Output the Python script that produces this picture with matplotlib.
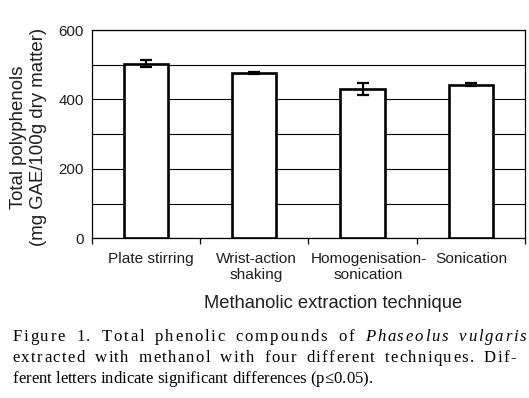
import matplotlib
matplotlib.use("Agg")
import matplotlib.pyplot as plt
import matplotlib.transforms as mtransforms
import numpy as np

# ---- data ----
categories = ["Plate stirring", "Wrist-action\nshaking", "Homogenisation-\nsonication", "Sonication"]
values = [503, 477, 429, 443]
errors = [10, 3, 17, 4]
ytick_values = [0, 100, 200, 300, 400, 500, 600]
ytick_labels = ["0", "", "200", "", "400", "", "600"]
ylabel = "Total polyphenols\n(mg GAE/100g dry matter)"
xlabel = "Methanolic extraction technique"
caption_lines = [
    [("Figure", "normal"), ("1.", "normal"), ("Total", "normal"), ("phenolic", "normal"),
     ("compounds", "normal"), ("of", "normal"), ("Phaseolus", "italic"), ("vulgaris", "italic")],
    [("extracted", "normal"), ("with", "normal"), ("methanol", "normal"), ("with", "normal"),
     ("four", "normal"), ("different", "normal"), ("techniques.", "normal"), ("Dif-", "normal")],
    [("ferent", "normal"), ("letters", "normal"), ("indicate", "normal"), ("significant", "normal"),
     ("differences", "normal"), ("(p≤0.05).", "normal")],
]

W, H = 529, 398
fig = plt.figure(figsize=(W / 100, H / 100), dpi=100)
fig.patch.set_facecolor("white")

sans = ["Liberation Sans", "DejaVu Sans"]
serif = ["Liberation Serif", "DejaVu Serif"]
tc = "#1e1e1e"

L, R, T, B = 91.7, 525, 30, 238.3
ax = fig.add_axes([L / W, 1 - B / H, (R - L) / W, (B - T) / H])

x = np.arange(len(categories))
ax.bar(x, values, width=0.41, color="white", edgecolor="black", linewidth=1.9, zorder=3)
ax.errorbar(x, values, yerr=errors, fmt="none", ecolor="black", elinewidth=1.6,
            capsize=4, capthick=1.6, zorder=4)

ax.set_xlim(-0.5, len(categories) - 0.5)
ax.set_ylim(0, 600)
ax.set_yticks(ytick_values)
ax.set_yticklabels(ytick_labels, fontfamily=sans, fontsize=10.8, color=tc)
ax.tick_params(axis="y", length=0, pad=5.5)
ax.yaxis.grid(True, color="black", linewidth=0.8, zorder=0)
ax.set_axisbelow(True)

ax.set_xticks(x)
ax.set_xticklabels(categories, fontfamily=sans, fontsize=11.1, color=tc, linespacing=1.2)
ax.set_xticks(np.arange(-0.5, len(categories), 1.0), minor=True)
ax.tick_params(axis="x", which="major", length=0, pad=10)
ax.tick_params(axis="x", which="minor", length=4, width=0.9, direction="out", color="black")
label_shift_px = [5, 2, 6, 0]
for lbl, dx in zip(ax.get_xticklabels(), label_shift_px):
    lbl.set_transform(lbl.get_transform() + mtransforms.Affine2D().translate(dx, 0))

for s in ax.spines.values():
    s.set_linewidth(0.9)
    s.set_color("black")

fig.text(28.5 / W, 1 - 137 / H, ylabel, rotation=90, ha="center", va="center",
         fontfamily=sans, fontsize=13.4, color=tc, linespacing=1.25, multialignment="center")
fig.text(333 / W, 1 - 308 / H, xlabel, ha="center", va="baseline",
         fontfamily=sans, fontsize=13.2, color=tc)

# caption: justified lines using word + letter spacing
fig.canvas.draw()
renderer = fig.canvas.get_renderer()
cap_size = 12.1
x0 = 12.5
line_ends = [526, 516, None]
baselines = [341, 362, 383]
space_px = cap_size * 100 / 72 * 0.25
for line, yb, xend in zip(caption_lines, baselines, line_ends):
    words = []
    for word, style in line:
        chars = []
        for ch in word:
            t = fig.text(0, 1 - yb / H, ch, ha="left", va="baseline", fontfamily=serif,
                         fontstyle=style, fontsize=cap_size, color="black")
            w = t.get_window_extent(renderer).width
            chars.append((t, w))
        words.append(chars)
    natural = sum(w for cw in words for _, w in cw) + space_px * (len(words) - 1)
    nchar_gaps = sum(len(cw) - 1 for cw in words)
    extra = 0.0 if xend is None else xend - x0 - natural
    ls = 0.6 * extra / max(nchar_gaps, 1)
    wg = space_px + 0.4 * extra / max(len(words) - 1, 1)
    cx = x0
    for cw in words:
        for j, (t, w) in enumerate(cw):
            t.set_x(cx / W)
            cx += w + (ls if j < len(cw) - 1 else 0)
        cx += wg

fig.savefig("out.png", dpi=100, facecolor="white")
